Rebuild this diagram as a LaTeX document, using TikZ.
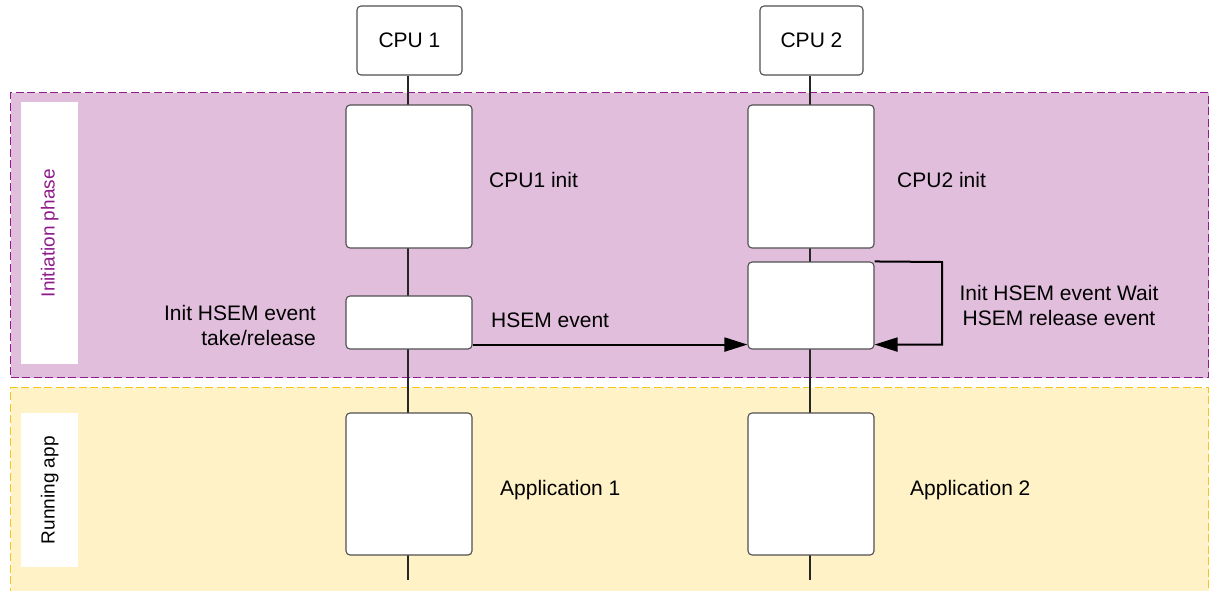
\documentclass[tikz,border=0pt]{standalone}
\usepackage{fontspec}
\setmainfont{Liberation Sans}
\usetikzlibrary{arrows.meta}
\definecolor{initfill}{HTML}{E1BEDC}
\definecolor{initedge}{HTML}{8E1A8C}
\definecolor{runfill}{HTML}{FFF2C6}
\definecolor{runedge}{HTML}{F5C518}
\definecolor{boxedge}{HTML}{505050}
\tikzset{
  lbl/.style={font=\fontsize{21}{25}\selectfont, inner sep=0pt, text=black},
  sidelbl/.style={font=\fontsize{19}{23}\selectfont, inner sep=0pt, rotate=90},
  stepbox/.style={draw=boxedge, line width=1.1pt, fill=white, rounded corners=4pt, inner sep=0pt},
  phase/.style={dashed, dash pattern=on 8pt off 3.5pt, line width=1.2pt, inner sep=0pt, anchor=north west},
  tag/.style={fill=white, draw=none, inner sep=0pt, anchor=north west},
  lifeline/.style={line width=1.3pt, draw=black!85},
  flow/.style={line width=2pt, -{Triangle[length=23pt,width=14pt]}}
}
\begin{document}
\begin{tikzpicture}[x=1pt,y=-1pt]
\useasboundingbox (0,0) rectangle (1214,590);
\clip (0,0) rectangle (1214,590);

% phase bands
\node[phase, fill=initfill, draw=initedge, minimum width=1198pt, minimum height=285pt] (initband) at (10,92) {};
\node[phase, fill=runfill, draw=runedge, minimum width=1198pt, minimum height=210pt] (runband) at (10,387) {};
\node[tag, minimum width=57pt, minimum height=262pt] (inittag) at (21,102) {};
\node[tag, minimum width=57pt, minimum height=154pt] (runtag) at (21,413) {};
\node[sidelbl, text=initedge] at (inittag.center) {Initiation phase};
\node[sidelbl, text=black] at (runtag.center) {Running app};

% CPU heads and lifelines
\node[stepbox, minimum width=105pt, minimum height=69pt, lbl] (cpu1) at (409.5,40.5) {CPU 1};
\node[stepbox, minimum width=103pt, minimum height=69pt, lbl] (cpu2) at (811.5,40.5) {CPU 2};
\coordinate (end1) at (408,580);
\coordinate (end2) at (810,580);
\draw[lifeline] (cpu1.south -| end1) -- (end1);
\draw[lifeline] (cpu2.south -| end2) -- (end2);

% CPU1 activity boxes
\node[stepbox, minimum width=126pt, minimum height=143pt] (init1) at (409,176.5) {};
\node[stepbox, minimum width=126pt, minimum height=53pt] (hsem1) at (409,322.5) {};
\node[stepbox, minimum width=126pt, minimum height=142pt] (app1) at (409,484) {};

% CPU2 activity boxes
\node[stepbox, minimum width=126pt, minimum height=143pt] (init2) at (811,176.5) {};
\node[stepbox, minimum width=126pt, minimum height=87pt] (wait2) at (811,305.5) {};
\node[stepbox, minimum width=126pt, minimum height=142pt] (app2) at (811,484) {};

% messages
\draw[flow] ([yshift=5pt]hsem1.south east) -- ([yshift=5pt]wait2.south west);
\coordinate (loop) at (942,262);
\draw[flow] (wait2.north east) -- (loop) |- ([yshift=5pt]wait2.south east);

% labels
\node[lbl, anchor=west] at (489,180) {CPU1 init};
\node[lbl, anchor=west] at (897,180) {CPU2 init};
\node[lbl, anchor=east, align=right] at (316,325) {Init HSEM event\\take/release};
\node[lbl, anchor=west] at (491,320) {HSEM event};
\node[lbl, align=center] at (1059,305) {Init HSEM event Wait\\HSEM release event};
\node[lbl, anchor=west] at (500,490) {Application 1};
\node[lbl, anchor=west] at (910,490) {Application 2};
\end{tikzpicture}
\end{document}
